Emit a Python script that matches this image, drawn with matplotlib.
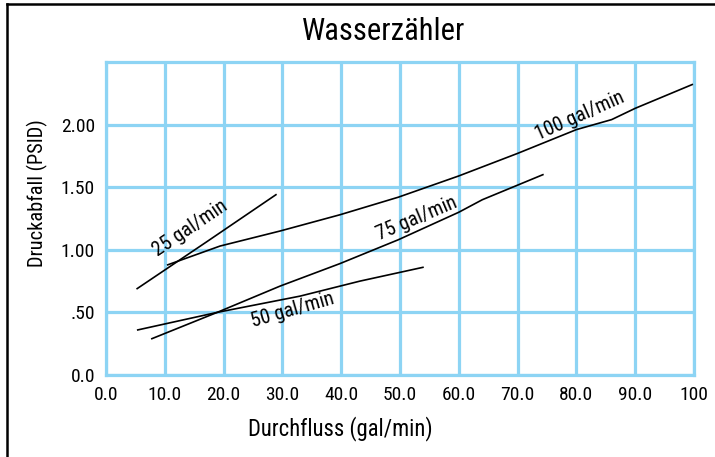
import matplotlib.pyplot as plt
from matplotlib.lines import Line2D

# Values (flow in gal/min, pressure drop in PSID)
flow_25 = [5.3, 17.0, 28.9]
drop_25 = [0.69, 1.06, 1.44]

flow_50 = [5.4, 18.9, 33.0, 43.2, 53.9]
drop_50 = [0.36, 0.50, 0.63, 0.75, 0.86]

flow_75 = [7.8, 18.9, 29.6, 39.8, 49.7, 60.0, 64.0, 74.3]
drop_75 = [0.29, 0.50, 0.71, 0.89, 1.08, 1.30, 1.40, 1.60]

flow_100 = [10.5, 19.4, 29.6, 39.8, 49.7, 60.0, 70.0, 80.0, 86.0, 90.0, 99.7]
drop_100 = [0.88, 1.03, 1.15, 1.28, 1.42, 1.59, 1.77, 1.96, 2.04, 2.13, 2.32]

x_ticks = [0, 10, 20, 30, 40, 50, 60, 70, 80, 90, 100]
x_labels = ['0.0', '10.0', '20.0', '30.0', '40.0', '50.0', '60.0', '70.0', '80.0', '90.0', '100']
y_ticks = [0.0, 0.5, 1.0, 1.5, 2.0]
y_labels = ['0.0', '.50', '1.00', '1.50', '2.00']

plt.rcParams['font.family'] = ['Roboto Condensed', 'Liberation Sans Narrow', 'Roboto', 'DejaVu Sans']

grid_blue = '#8dd4f4'

fig = plt.figure(figsize=(7.15, 4.57), dpi=100)
ax = fig.add_axes([106 / 715, 82 / 457, 588 / 715, 313 / 457])

# Curves
for xs, ys in [(flow_25, drop_25), (flow_50, drop_50), (flow_75, drop_75), (flow_100, drop_100)]:
    ax.plot(xs, ys, color='black', linewidth=1.2, zorder=3)

# Curve labels
ax.text(14.3, 1.17, '25 gal/min', rotation=34, fontsize=14.5, ha='center', va='center', rotation_mode='anchor')
ax.text(31.8, 0.52, '50 gal/min', rotation=16, fontsize=14.5, ha='center', va='center', rotation_mode='anchor')
ax.text(52.9, 1.25, '75 gal/min', rotation=23, fontsize=14.5, ha='center', va='center', rotation_mode='anchor')
ax.text(80.6, 2.07, '100 gal/min', rotation=24, fontsize=14.5, ha='center', va='center', rotation_mode='anchor')

# Axes and grid
ax.set_xlim(0, 100)
ax.set_ylim(0, 2.5)
ax.set_xticks(x_ticks)
ax.set_xticklabels(x_labels)
ax.set_yticks(y_ticks)
ax.set_yticklabels(y_labels)
ax.tick_params(length=0, labelsize=14, pad=8)
ax.grid(color=grid_blue, linewidth=2.3)
ax.set_axisbelow(True)
for s in ax.spines.values():
    s.set_color(grid_blue)
    s.set_linewidth(2.3)

# Titles
fig.text(384 / 715, 1 - 32 / 457, 'Wasserzähler', fontsize=22, ha='center', va='center')
fig.text(340 / 715, 1 - 429 / 457, 'Durchfluss (gal/min)', fontsize=16.3, ha='center', va='center')
fig.text(37 / 715, 1 - 193 / 457, 'Druckabfall (PSID)', fontsize=14.7, ha='center', va='center', rotation=90)

# Frame on the left and top edges
fig.add_artist(Line2D([7 / 715, 7 / 715], [0, 1 - 4 / 457], color='black', linewidth=1.8))
fig.add_artist(Line2D([7 / 715, 1], [1 - 4 / 457, 1 - 4 / 457], color='black', linewidth=1.8))

fig.savefig('out.png', dpi=100)
